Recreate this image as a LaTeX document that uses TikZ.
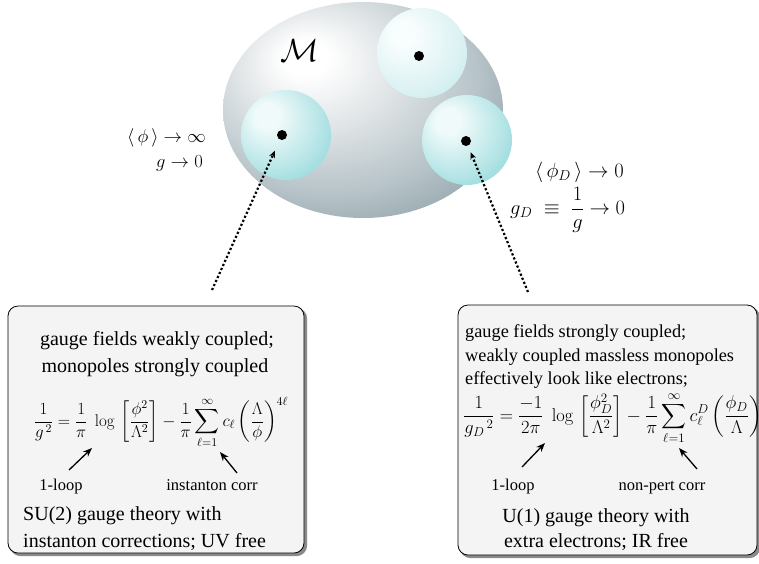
\RequirePackage{fix-cm}
\documentclass[tikz,border=0pt]{standalone}
\usepackage[no-math]{fontspec}
\setmainfont{Liberation Serif}
\usepackage{amsmath}
\usetikzlibrary{arrows.meta,shapes.geometric}
\definecolor{eA}{HTML}{FFFFFF}
\definecolor{eB}{HTML}{DDE2E4}
\definecolor{eC}{HTML}{B5C2C7}
\definecolor{eD}{HTML}{7F959C}
\definecolor{cA}{HTML}{F0FAFA}
\definecolor{cB}{HTML}{B4E4E6}
\definecolor{cC}{HTML}{78CFD3}
\definecolor{tA}{HTML}{F8FDFD}
\definecolor{tB}{HTML}{DCF2F3}
\definecolor{tC}{HTML}{BCE7E9}
\definecolor{boxfill}{HTML}{F4F4F4}
\definecolor{shadowc}{HTML}{8A8A8A}
\pgfdeclareradialshading{ellsh}{\pgfpoint{-11bp}{13bp}}{color(0bp)=(eA); color(4bp)=(eA); color(15bp)=(eB); color(27bp)=(eC); color(41bp)=(eD); color(60bp)=(eD)}
\pgfdeclareradialshading{cysh}{\pgfpoint{-12bp}{12bp}}{color(0bp)=(cA); color(7bp)=(cA); color(27bp)=(cB); color(44bp)=(cC); color(60bp)=(cC)}
\pgfdeclareradialshading{cyshtop}{\pgfpoint{-12bp}{12bp}}{color(0bp)=(tA); color(7bp)=(tA); color(27bp)=(tB); color(44bp)=(tC); color(60bp)=(tC)}
\tikzset{
  blob/.style={circle, inner sep=0pt, minimum size=90pt, shading=cysh},
  pdot/.style={circle, fill=black, inner sep=0pt, minimum size=10pt},
  panel/.style={rounded corners=10pt, draw=black, line width=0.8pt, fill=boxfill},
  panelshadow/.style={rounded corners=10pt, draw=shadowc, line width=1.2pt, fill=shadowc},
  dotarrow/.style={line width=2.2pt, dash pattern=on 2.2pt off 2.2pt, -{Stealth[length=7pt,width=6pt]}},
  solarrow/.style={line width=1.3pt, -{Stealth[length=9pt,width=7pt]}},
  lbl/.style={inner sep=0pt, font=\fontsize{18.5}{22}\selectfont},
  lblr/.style={inner sep=0pt, font=\fontsize{20.5}{24}\selectfont},
  bigtxt/.style={inner sep=0pt, font=\fontsize{20}{27}\selectfont},
  midtxt/.style={inner sep=0pt, font=\fontsize{18.3}{23.5}\selectfont},
  smalltxt/.style={inner sep=0pt, font=\fontsize{16.5}{20}\selectfont},
  eqn/.style={inner sep=0pt, font=\fontsize{17}{20}\selectfont},
  eqnr/.style={inner sep=0pt, font=\fontsize{18.5}{22}\selectfont}
}
\begin{document}
\begin{tikzpicture}[x=1pt,y=-1pt]
\useasboundingbox (0,0) rectangle (759,563);
% moduli space
\node[ellipse, inner sep=0pt, minimum width=280pt, minimum height=216pt, shading=ellsh] (M) at (363,110) {};
\node[inner sep=0pt, font=\fontsize{32}{36}\selectfont] (Mlab) at (300,51) {$\mathcal{M}$};
\node[blob, shading=cyshtop] (cT) at (422,53) {};
\node[blob] (cL) at (286,135) {};
\node[blob] (cR) at (467,140) {};
\node[pdot] (dT) at (419,56) {};
\node[pdot] (dL) at (282,135) {};
\node[pdot] (dR) at (466,141) {};
% labels near M
\node[lbl, anchor=base east] (l1) at (206,142) {$\langle\,\phi\,\rangle \to \infty$};
\node[lbl, anchor=base east] (l2) at (203,167) {$g \to 0$};
\node[lblr, anchor=base west] (r1) at (535,177) {$\langle\,\phi_D\,\rangle \to 0$};
\node[lblr, anchor=west] (r2) at (510,210) {$g_D \;\equiv\; \dfrac{1}{g} \to 0$};
% dotted connectors
\coordinate (sL) at (212,290);
\coordinate (sR) at (528,292);
\draw[dotarrow, shorten >=12pt] (sL) -- (dL);
\draw[dotarrow, shorten >=7pt] (sR) -- (dR);
% left panel
\draw[panelshadow] (10.5,308.5) rectangle (306.5,555.5);
\draw[panel] (8,306) rectangle (304,553);
\node[bigtxt, anchor=base] (t1) at (157,345) {gauge fields weakly coupled;};
\node[bigtxt, anchor=base] (t2) at (155,372) {monopoles strongly coupled};
\node[eqn] (e1) at (161,423) {$\displaystyle \frac{1}{g^{\,2}} = \frac{1}{\pi}\;\log\,\left[\frac{\phi^2}{\Lambda^2}\right] - \frac{1}{\pi}\sum_{\ell=1}^{\infty} c_\ell\left(\frac{\Lambda}{\phi}\right)^{4\ell}$};
\node[smalltxt, anchor=base] (a1) at (61,490) {1-loop};
\node[smalltxt, anchor=base] (a2) at (212,490) {instanton corr};
\coordinate (p1s) at (69,470); \coordinate (p1e) at (92,448);
\coordinate (p2s) at (237,473); \coordinate (p2e) at (220,452);
\draw[solarrow] (p1s) -- (p1e);
\draw[solarrow] (p2s) -- (p2e);
\node[bigtxt, anchor=base west] (b1) at (23,520) {SU(2) gauge theory with};
\node[bigtxt, anchor=base west] (b2) at (23,547) {instanton corrections; UV free};
% right panel
\draw[panelshadow] (460.5,307.5) rectangle (759.5,557.5);
\draw[panel] (458,305) rectangle (757,555);
\node[midtxt, anchor=base west] (u1) at (465,337) {gauge fields strongly coupled;};
\node[midtxt, anchor=base west] (u2) at (465,361) {weakly coupled massless monopoles};
\node[midtxt, anchor=base west] (u3) at (465,384) {effectively look like electrons;};
\node[eqnr, anchor=west] (e2) at (463,418) {$\displaystyle \frac{1}{{g_D}^{\,2}} = \frac{-1}{2\pi}\;\log\,\left[\frac{\phi_D^2}{\Lambda^2}\right] - \frac{1}{\pi}\sum_{\ell=1}^{\infty} c_\ell^D\left(\frac{\phi_D}{\Lambda}\right)^{2\ell}$};
\node[smalltxt, anchor=base] (a3) at (513,490) {1-loop};
\node[smalltxt, anchor=base] (a4) at (662,490) {non-pert corr};
\coordinate (p3s) at (522,467); \coordinate (p3e) at (545,443);
\coordinate (p4s) at (697,469); \coordinate (p4e) at (679,448);
\draw[solarrow] (p3s) -- (p3e);
\draw[solarrow] (p4s) -- (p4e);
\node[bigtxt, anchor=base, align=center] (v1) at (596,522) {U(1) gauge theory with};
\node[bigtxt, anchor=base, align=center] (v2) at (596,547) {extra electrons; IR free};
\end{tikzpicture}
\end{document}
